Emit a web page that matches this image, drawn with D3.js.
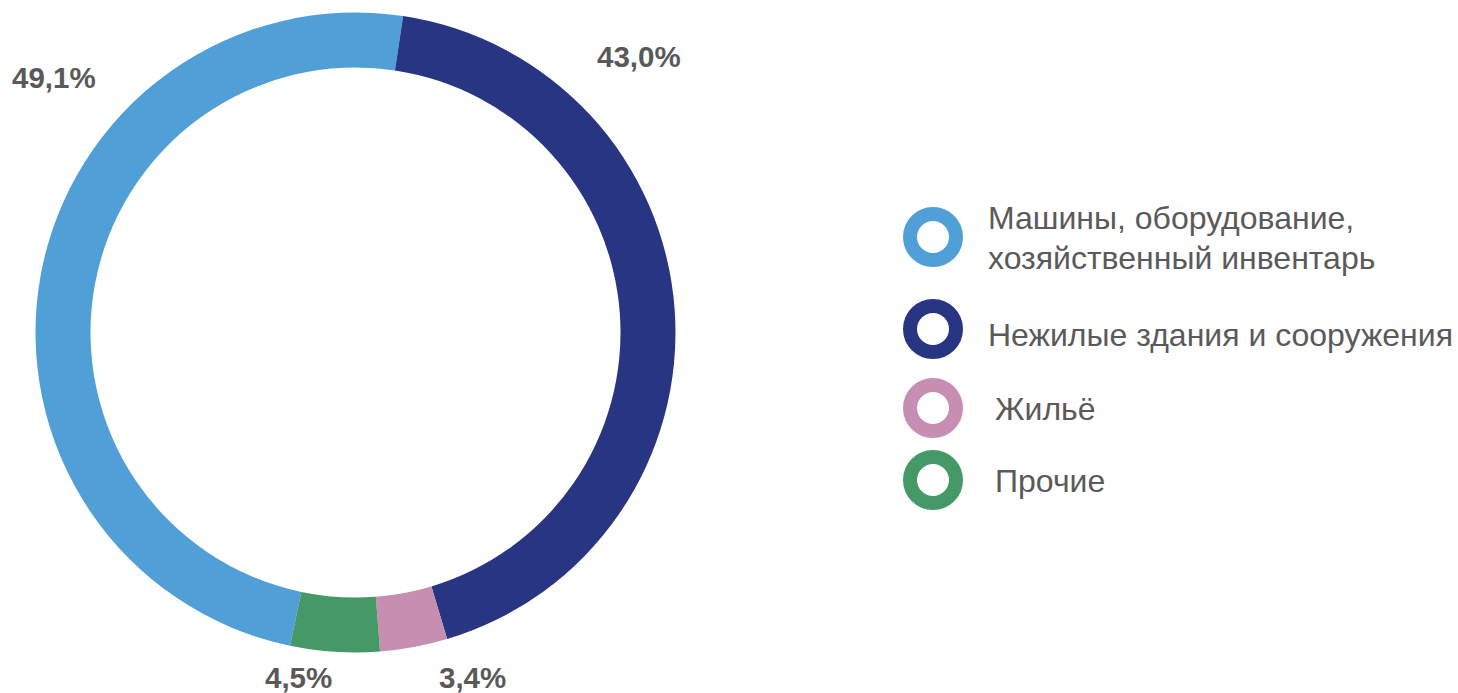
<!DOCTYPE html>
<html><head><meta charset="utf-8">
<script src="https://cdn.jsdelivr.net/npm/d3@7"></script>
<style>body{margin:0;background:#fff;} text{font-family:"Liberation Sans",Arial,sans-serif;}</style>
</head><body>
<svg id="c" width="1458" height="693"></svg>
<script>
const categories = ["Машины, оборудование, хозяйственный инвентарь","Нежилые здания и сооружения","Жильё","Прочие"];
const legendLines = [["Машины, оборудование,","хозяйственный инвентарь"],["Нежилые здания и сооружения"],["Жильё"],["Прочие"]];
const values = [49.1, 43.0, 3.4, 4.5];
const valueLabels = ["49,1%","43,0%","3,4%","4,5%"];
const colors = ["#519fd7","#283583","#c68fb1","#459966"];
// label anchor positions (text start, baseline)
const labelPos = [[12,88],[597,67],[439,688],[265,688]];
const legendY = [237,329,408,480];
const legendBase = [229,346,420,492];
const legendTextX = [988,988,995,995];

const svg = d3.select("#c");
const cx = 355.5, cy = 332.5, rOuter = 320, rInner = 265;
const startDeg = 191.8;
const pie = d3.pie().sort(null).value(d=>d)
  .startAngle(startDeg*Math.PI/180).endAngle((startDeg+360)*Math.PI/180);
const arc = d3.arc().innerRadius(rInner).outerRadius(rOuter);
const g = svg.append("g").attr("transform",`translate(${cx},${cy})`);
g.selectAll("path").data(pie(values)).join("path")
  .attr("d",arc).attr("fill",(d,i)=>colors[i]);

svg.selectAll("text.lbl").data(valueLabels).join("text").attr("class","lbl")
  .attr("x",(d,i)=>labelPos[i][0]).attr("y",(d,i)=>labelPos[i][1])
  .attr("font-size",29.5).attr("font-weight","bold").attr("fill","#595959")
  .text(d=>d);

const lg = svg.append("g");
categories.forEach((c,i)=>{
  lg.append("circle").attr("cx",933).attr("cy",legendY[i]).attr("r",23)
    .attr("fill","none").attr("stroke",colors[i]).attr("stroke-width",14);
  const lines = legendLines[i];
  const t = lg.append("text").attr("x",legendTextX[i]).attr("font-size",32).attr("fill","#5a5a5a");
  lines.forEach((l,j)=>{
    t.append("tspan").attr("x",legendTextX[i]).attr("y",legendBase[i] + j*40).text(l);
  });
});
</script>
</body></html>
